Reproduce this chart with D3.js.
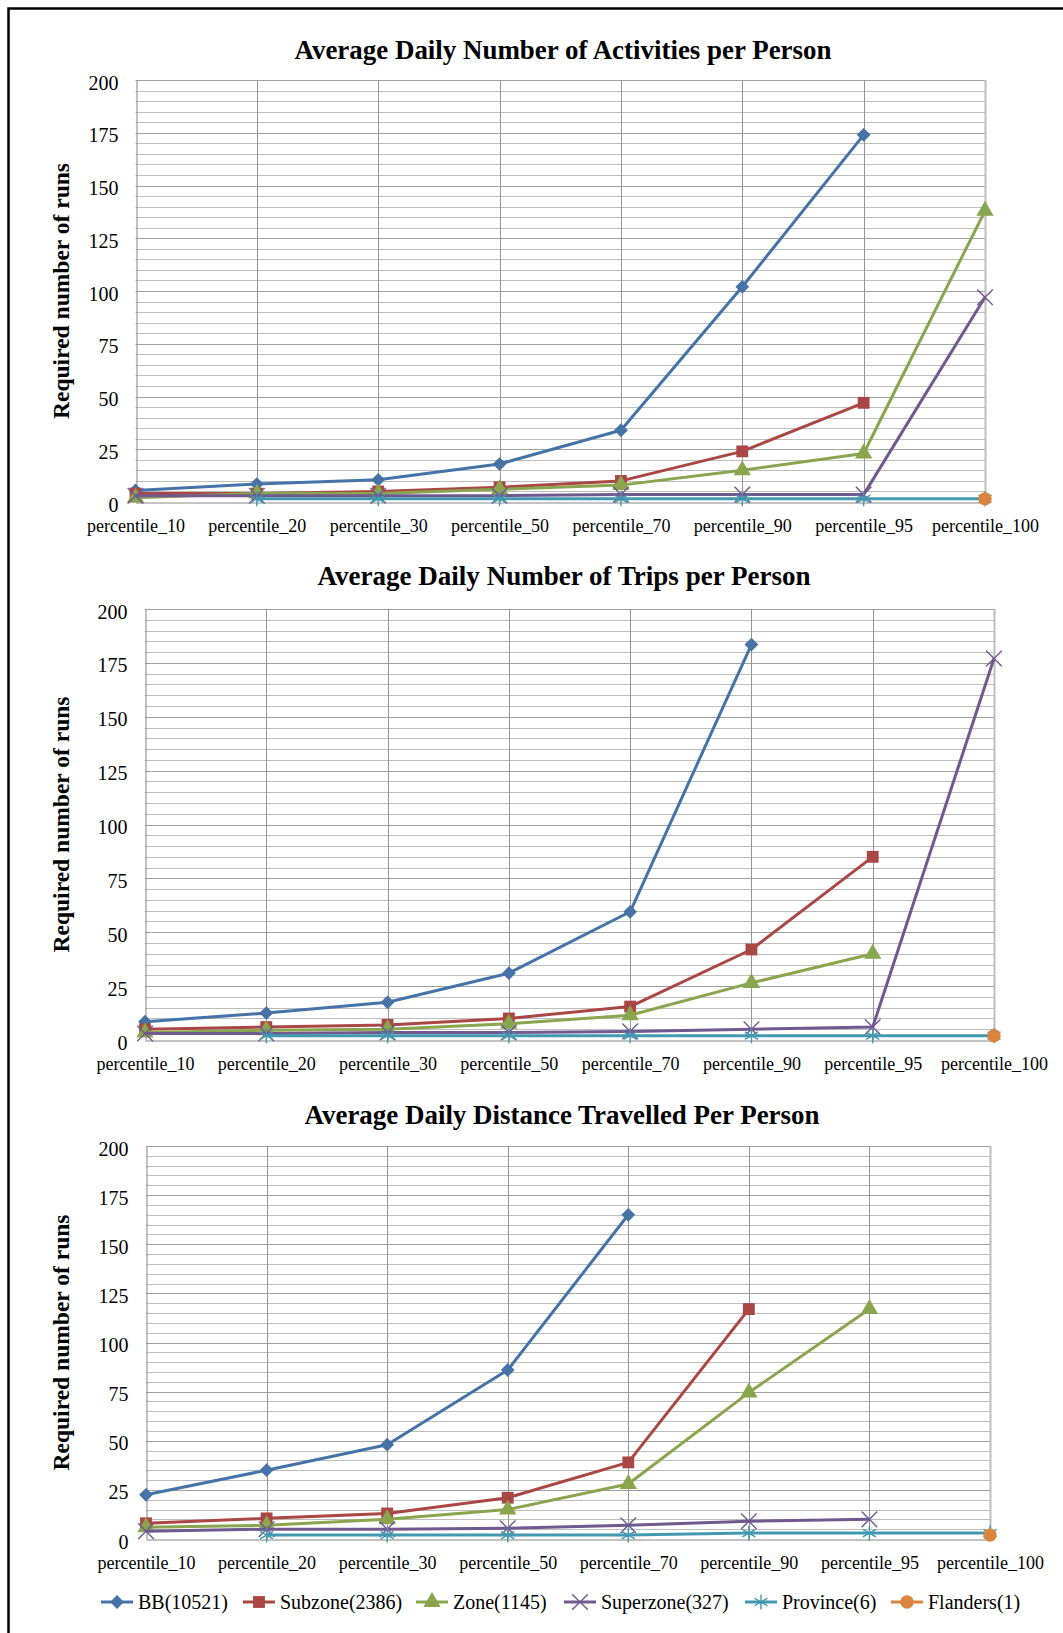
<!DOCTYPE html>
<html>
<head>
<meta charset="utf-8">
<script src="https://cdn.jsdelivr.net/npm/d3@7"></script>
<style>
  html, body { margin: 0; padding: 0; background: #fff; }
  svg { display: block; }
  text { font-family: "Liberation Serif", "Times New Roman", serif; fill: #000; }
</style>
</head>
<body>
<svg id="chart" width="1063" height="1633"></svg>
<script>
// ---------- data ----------
const categories = ["percentile_10", "percentile_20", "percentile_30", "percentile_50",
                    "percentile_70", "percentile_90", "percentile_95", "percentile_100"];
const yTicks = [0, 25, 50, 75, 100, 125, 150, 175, 200];
const seriesNames = ["BB(10521)", "Subzone(2386)", "Zone(1145)", "Superzone(327)", "Province(6)", "Flanders(1)"];

const titles = ["Average Daily Number of Activities per Person",
                "Average Daily Number of Trips per Person",
                "Average Daily Distance Travelled Per Person"];
const yTitle = "Required number of runs";

// Chart 1: activities
const act_BB        = [5.5, 8.5, 10.5, 18, 34, 102, 174, null];
const act_Subzone   = [4, 4, 5, 7, 10, 24, 47, null];
const act_Zone      = [2, 4, 4, 6, 8, 15, 23, 138];
const act_Superzone = [3, 3, 3, 3, 3.5, 3.5, 3.5, 97];
const act_Province  = [null, 1.5, 1.5, 1.5, 1.5, 1.5, 1.5, 1.5];
const act_Flanders  = [null, null, null, null, null, null, null, 1.5];

// Chart 2: trips
const trip_BB        = [8.5, 12.5, 17.5, 31, 59.5, 183.5, null, null];
const trip_Subzone   = [5, 6, 7, 10, 15.5, 42, 85, null];
const trip_Zone      = [3.5, 4.5, 5, 7.5, 11.5, 26.5, 40, null];
const trip_Superzone = [3, 3, 3.5, 3.5, 4, 5, 6, 177];
const trip_Province  = [null, 2, 2, 2, 2, 2, 2, 2];
const trip_Flanders  = [null, null, null, null, null, null, null, 2];

// Chart 3: distance
const dist_BB        = [22.5, 35, 48, 86, 165, null, null, null];
const dist_Subzone   = [8, 10.5, 13, 21, 39, 117, null, null];
const dist_Zone      = [6, 7, 10, 15, 28, 74.5, 117, null];
const dist_Superzone = [4, 5, 5, 5.5, 7, 9, 10, null];
const dist_Province  = [null, 2, 2, 2, 2, 3, 3, 3];
const dist_Flanders  = [null, null, null, null, null, null, null, 2];

const chartData = [
  [act_BB, act_Subzone, act_Zone, act_Superzone, act_Province, act_Flanders],
  [trip_BB, trip_Subzone, trip_Zone, trip_Superzone, trip_Province, trip_Flanders],
  [dist_BB, dist_Subzone, dist_Zone, dist_Superzone, dist_Province, dist_Flanders]
];

// ---------- styles ----------
const colors = ["#4572A7", "#AA4643", "#89A54E", "#71588F", "#4198AF", "#DB843D"];
const markers = ["diamond", "square", "triangle", "x", "asterisk", "circle"];

const layouts = [
  {top: 80,   bottom: 502,  left: 135.5, right: 985, titleY: 59,   titleLen: 537, titleX: 563},
  {top: 609,  bottom: 1040, left: 145,   right: 994, titleY: 585,  titleLen: 493, titleX: 564},
  {top: 1146, bottom: 1539, left: 146,   right: 990, titleY: 1124, titleLen: 515, titleX: 562}
];

const svg = d3.select("#chart");

// outer frame
svg.append("rect").attr("x", 8.5).attr("y", 8.5).attr("width", 1200).attr("height", 1800)
  .attr("fill", "none").attr("stroke", "#000").attr("stroke-width", 2.5);

function drawMarker(g, type, color, x, y) {
  if (type === "diamond") {
    g.append("path").attr("d", d3.symbol(d3.symbolSquare, 95)())
      .attr("transform", `translate(${x},${y}) rotate(45)`).attr("fill", color);
  } else if (type === "square") {
    g.append("path").attr("d", d3.symbol(d3.symbolSquare, 140)())
      .attr("transform", `translate(${x},${y})`).attr("fill", color);
  } else if (type === "triangle") {
    g.append("path").attr("d", d3.symbol(d3.symbolTriangle, 130)())
      .attr("transform", `translate(${x},${y})`).attr("fill", color);
  } else if (type === "x") {
    g.append("path").attr("d", d3.symbol(d3.symbolX, 160)())
      .attr("transform", `translate(${x},${y})`).attr("fill", "none")
      .attr("stroke", color).attr("stroke-width", 1.4);
  } else if (type === "asterisk") {
    g.append("path").attr("d", d3.symbol(d3.symbolAsterisk, 160)())
      .attr("transform", `translate(${x},${y})`).attr("fill", "none")
      .attr("stroke", color).attr("stroke-width", 1.4);
  } else if (type === "circle") {
    g.append("path").attr("d", d3.symbol(d3.symbolCircle, 140)())
      .attr("transform", `translate(${x},${y})`).attr("fill", color);
  }
}

layouts.forEach((L, ci) => {
  const g = svg.append("g");
  const x = d3.scalePoint().domain(categories).range([L.left, L.right]).padding(0);
  const y = d3.scaleLinear().domain([0, 200]).range([L.bottom, L.top]);

  // horizontal gridlines every 5
  g.append("g").selectAll("line").data(d3.range(5, 201, 5)).join("line")
    .attr("x1", L.left).attr("x2", L.right)
    .attr("y1", d => Math.round(y(d)) + 0.5).attr("y2", d => Math.round(y(d)) + 0.5)
    .attr("stroke", d => d % 25 === 0 ? "#a0a0a0" : "#bdbdbd")
    .attr("stroke-width", 1);

  // vertical gridlines at categories
  g.append("g").selectAll("line").data(categories.slice(1)).join("line")
    .attr("x1", d => Math.round(x(d)) + 0.5).attr("x2", d => Math.round(x(d)) + 0.5)
    .attr("y1", L.top).attr("y2", L.bottom)
    .attr("stroke", (d, i) => i === categories.length - 2 ? "#bdbdbd" : "#969696")
    .attr("stroke-width", (d, i) => i === categories.length - 2 ? 2 : 1);

  // axes
  const yAxis = d3.axisLeft(y).tickValues(yTicks).tickSize(0).tickPadding(18);
  const ya = g.append("g").attr("transform", `translate(${Math.round(L.left) + 0.5},0)`).call(yAxis);
  ya.select(".domain").attr("stroke", "#868686");
  ya.selectAll("text").attr("font-size", 20).attr("dy", "0.45em")
    .style("font-family", "'Liberation Serif', serif");

  const xAxis = d3.axisBottom(x).tickSize(0).tickPadding(17);
  const xa = g.append("g").attr("transform", `translate(0,${Math.round(L.bottom) + 0.5})`).call(xAxis);
  xa.select(".domain").attr("stroke", "#868686");
  xa.selectAll("text").attr("font-size", 18).style("font-family", "'Liberation Serif', serif");

  // series
  chartData[ci].forEach((vals, si) => {
    const pts = vals.map((v, i) => ({c: categories[i], v}));
    const line = d3.line().defined(d => d.v != null).x(d => x(d.c)).y(d => y(d.v));
    g.append("path").datum(pts).attr("d", line).attr("fill", "none")
      .attr("stroke", colors[si]).attr("stroke-width", 3).attr("stroke-linejoin", "round");
    const mg = g.append("g");
    pts.filter(d => d.v != null).forEach(d => drawMarker(mg, markers[si], colors[si], x(d.c), y(d.v)));
  });

  // title
  svg.append("text").attr("x", L.titleX).attr("y", L.titleY).attr("text-anchor", "middle")
    .attr("font-size", 27).attr("font-weight", "bold")
    .attr("textLength", L.titleLen).attr("lengthAdjust", "spacingAndGlyphs")
    .text(titles[ci]);

  // y title
  const cy = (L.top + L.bottom) / 2;
  svg.append("text").attr("transform", `translate(69,${cy}) rotate(-90)`)
    .attr("text-anchor", "middle").attr("font-size", 23).attr("font-weight", "bold")
    .attr("textLength", 256).attr("lengthAdjust", "spacingAndGlyphs")
    .text(yTitle);
});

// legend
const legendY = 1602;
const legendX = [101, 243, 416, 564, 745, 891];
seriesNames.forEach((name, i) => {
  const lg = svg.append("g");
  const x0 = legendX[i];
  lg.append("line").attr("x1", x0).attr("x2", x0 + 32).attr("y1", legendY).attr("y2", legendY)
    .attr("stroke", colors[i]).attr("stroke-width", 3);
  drawMarker(lg, markers[i], colors[i], x0 + 16, legendY);
  lg.append("text").attr("x", x0 + 37).attr("y", legendY).attr("dy", "0.33em")
    .attr("font-size", 20).text(name);
});
</script>
</body>
</html>
